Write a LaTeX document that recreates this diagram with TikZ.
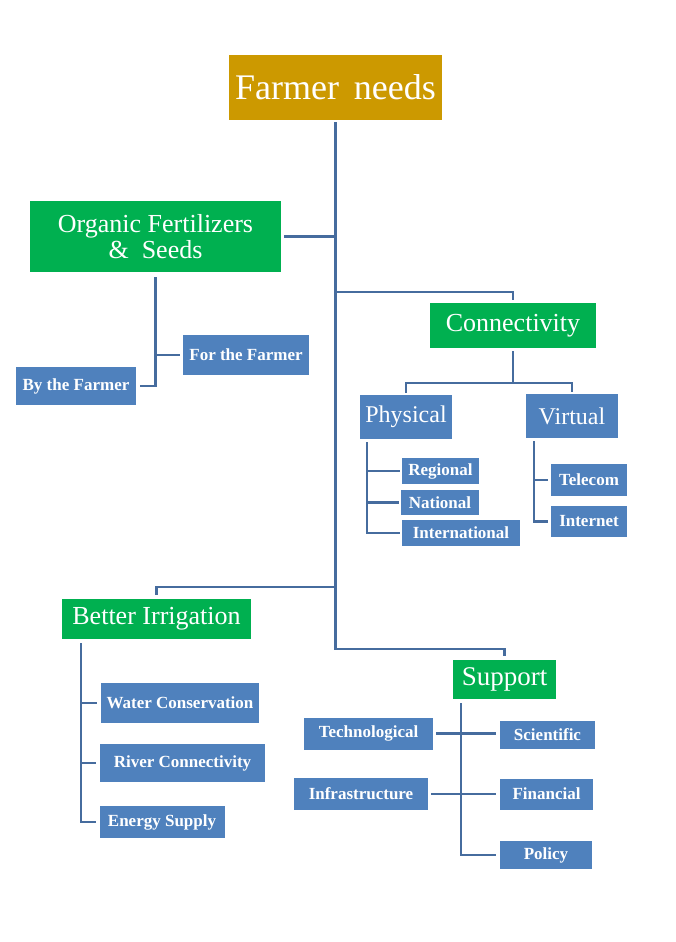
\documentclass[tikz,border=0pt]{standalone}
\usepackage{fontspec}
\setmainfont{Liberation Serif}
\definecolor{gold}{RGB}{204,153,0}
\definecolor{grn}{RGB}{0,176,80}
\definecolor{blu}{RGB}{79,129,189}
\definecolor{ln}{RGB}{70,108,158}
\begin{document}
\begin{tikzpicture}[x=1pt,y=-1pt,
  bx/.style={fill=#1,text=white,inner sep=0pt,align=center},
  big/.style={font=\fontsize{26}{27}\selectfont},
  mid/.style={font=\fontsize{24}{26}\selectfont},
  sm/.style={font=\bfseries\fontsize{17}{19}\selectfont},
  conn/.style={draw=ln,line width=2.6pt}]
\fill[white] (0,0) rectangle (676,942);
\useasboundingbox (0,0) rectangle (676,942);

% main nodes
\node[bx=gold,font=\fontsize{36}{38}\selectfont,minimum width=213pt,minimum height=65pt] (farmer) at (335.5,87.5) {Farmer\,\ needs};
\node[bx=grn,big,minimum width=251pt,minimum height=71pt] (organic) at (155.5,236.5) {Organic Fertilizers\\[-1pt]\&\ \ Seeds};
\node[bx=blu,sm,minimum width=126pt,minimum height=40pt] (forf) at (246,355) {For the Farmer};
\node[bx=blu,sm,minimum width=120pt,minimum height=38pt] (byf) at (76,386) {By the Farmer};

\node[bx=grn,big,minimum width=166pt,minimum height=45pt] (conn) at (513,325.5) {Connectivity};
\node[bx=blu,mid,minimum width=92pt,minimum height=44pt] (phys) at (406,417) {Physical};
\node[bx=blu,mid,minimum width=92pt,minimum height=44pt] (virt) at (572,416) {Virtual};
\node[bx=blu,sm,minimum width=77pt,minimum height=26pt] (reg) at (440.5,471) {Regional};
\node[bx=blu,sm,minimum width=78pt,minimum height=25pt] (nat) at (440,502.5) {National};
\node[bx=blu,sm,minimum width=118pt,minimum height=26pt] (intl) at (461,533) {International};
\node[bx=blu,sm,minimum width=76pt,minimum height=32pt] (tel) at (589,480) {Telecom};
\node[bx=blu,sm,minimum width=76pt,minimum height=31pt] (inet) at (589,521.5) {Internet};

\node[bx=grn,big,minimum width=189pt,minimum height=40pt] (irr) at (156.5,619) {Better Irrigation};
\node[bx=blu,sm,minimum width=158pt,minimum height=40pt] (water) at (180,703) {Water Conservation};
\node[bx=blu,sm,minimum width=165pt,minimum height=38pt] (river) at (182.5,763) {River Connectivity};
\node[bx=blu,sm,minimum width=125pt,minimum height=32pt] (energy) at (162,822) {Energy Supply};

\node[bx=grn,font=\fontsize{27}{28}\selectfont,minimum width=103pt,minimum height=39pt] (support) at (504.5,679.5) {Support};
\node[bx=blu,sm,minimum width=129pt,minimum height=32pt] (tech) at (368.5,733.5) {Technological};
\node[bx=blu,sm,minimum width=134pt,minimum height=32pt] (infra) at (361,794) {Infrastructure};
\node[bx=blu,sm,minimum width=95pt,minimum height=28pt] (sci) at (547.5,734.5) {Scientific};
\node[bx=blu,sm,minimum width=93pt,minimum height=31pt] (fin) at (546.5,794) {Financial};
\node[bx=blu,sm,minimum width=92pt,minimum height=28pt] (pol) at (546,855) {Policy};

% junction coordinates
\coordinate (jc) at (336,292);
\coordinate (ji) at (336,587);
\coordinate (js) at (336,649);
\coordinate (jcv) at (513,383);
\coordinate (px) at (367,442);
\coordinate (vx) at (534,441);
\coordinate (ix) at (81,643);
\coordinate (sx) at (461,703);

% trunk
\draw[conn] ([yshift=-2pt]farmer.south) -- (farmer.south |- js) -| ([yshift=4pt]support.north);
\draw[conn] ([xshift=3pt]organic.east) -- (organic.east -| farmer.south);
\draw[conn] (farmer.south |- jc) -| ([yshift=3pt]conn.north);
\draw[conn] (farmer.south |- ji) -| ([yshift=4pt]irr.north);

% organic subtree
\draw[conn] ([yshift=-5pt]organic.south) |- ([xshift=4pt]byf.east);
\draw[conn] (organic.south |- forf.west) -- ([xshift=-3pt]forf.west);

% connectivity subtree
\draw[conn] ([yshift=-3pt]conn.south) -- (jcv);
\draw[conn] ([yshift=2pt]phys.north) -- (phys.north |- jcv) -- (virt.north |- jcv) -- ([yshift=2pt]virt.north);
\draw[conn] (px) |- ([xshift=-2pt]intl.west);
\draw[conn] (px |- reg.west) -- ([xshift=-2pt]reg.west);
\draw[conn] (px |- nat.west) -- ([xshift=-2pt]nat.west);
\draw[conn] (vx) |- ([xshift=-3pt]inet.west);
\draw[conn] (vx |- tel.west) -- ([xshift=-3pt]tel.west);

% irrigation subtree
\draw[conn] (ix) |- ([xshift=-3pt]energy.west);
\draw[conn] (ix |- water.west) -- ([xshift=-4pt]water.west);
\draw[conn] (ix |- river.west) -- ([xshift=-4pt]river.west);

% support subtree
\draw[conn] (sx) |- ([xshift=-4pt]pol.west);
\draw[conn] ([xshift=3pt]tech.east) -- ([xshift=-4pt]tech.east -| sci.west);
\draw[conn] ([xshift=3pt]infra.east) -- ([xshift=-4pt]infra.east -| fin.west);
\end{tikzpicture}
\end{document}
